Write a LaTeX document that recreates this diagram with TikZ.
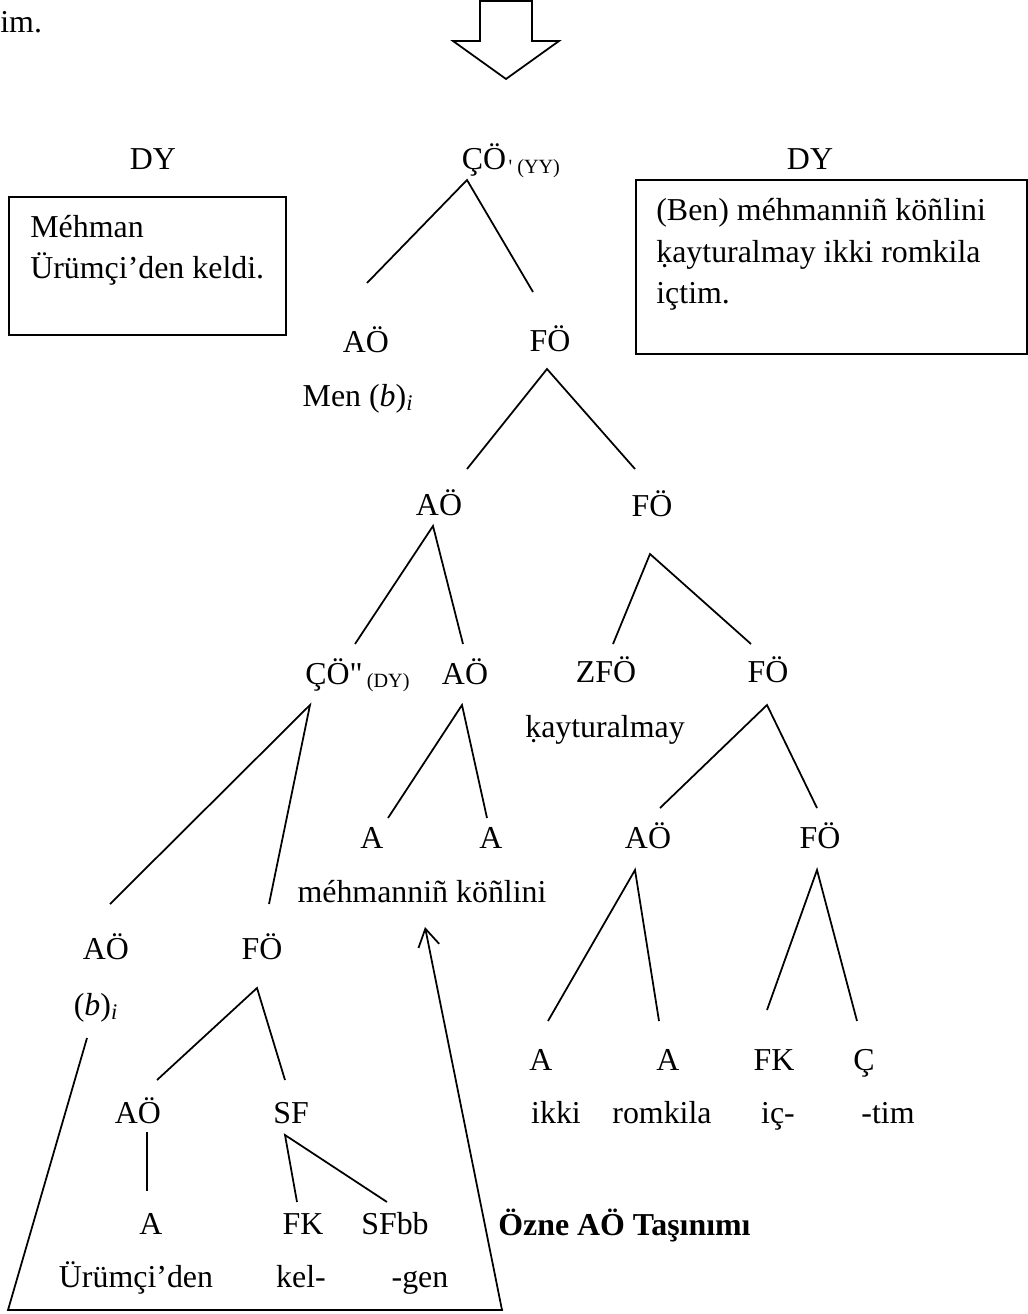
\documentclass[tikz,border=0pt]{standalone}
\usepackage{fontspec}
\setmainfont{Liberation Serif}[Ligatures=TeXOff]
\usetikzlibrary{calc, arrows.meta}

\begin{document}
\begin{tikzpicture}[x=0.02cm, y=-0.02cm,
    font=\fontsize{18.15}{23.8}\selectfont,
    tag/.style={inner sep=0pt, anchor=base},
    sub/.style={inner sep=0pt, anchor=base west, font=\fontsize{11.5}{12}\selectfont},
    branch/.style={line width=1pt},
    dybox/.style={draw, line width=1pt, inner sep=0pt, anchor=north west}]
\useasboundingbox (0,0) rectangle (1027,1314);

% end of the sentence above and the big arrow
\node[tag, anchor=base west] (prev) at (0,33) {im.};
\draw[line width=1pt, fill=white] (480,1) -- (480,41) -- (453,41) -- (506,79)
    -- (559,41) -- (532,41) -- (532,1) -- cycle;

% the two sentences
\node[tag] (dyL) at (153,170) {DY};
\node[dybox, minimum width=5.54cm, minimum height=2.76cm] (boxL) at (8,196) {};
\node[tag, anchor=base west, align=left] (txtL) at (30,279) {Méhman\\Ürümçi’den keldi.};
\node[tag] (dyR) at (810,170) {DY};
\node[dybox, minimum width=7.82cm, minimum height=3.48cm] (boxR) at (635,179) {};
\node[tag, anchor=base west, align=left] (txtR) at (656,304)
    {(Ben) méhmanniñ köñlini\\ḳayturalmay ikki romkila\\içtim.};

% tree labels
\node[tag] (cop) at (484,170) {ÇÖ};
\node[sub] (copsub) at ([xshift=1pt, yshift=-2pt]cop.base east) {' (YY)};
\node[tag] (ao1) at (366,352) {AÖ};
\node[tag] (fo1) at (550,351) {FÖ};
\node[tag] (men) at (358,406) {Men (\textit{b})\textsubscript{\textit{i}}};
\node[tag] (ao2) at (439,515) {AÖ};
\node[tag] (fo2) at (652,516) {FÖ};
\node[tag] (cdp) at (334,684) {ÇÖ"};
\node[sub] (cdpsub) at ([xshift=2pt, yshift=-2pt]cdp.base east) {(DY)};
\node[tag] (ao3) at (465,684) {AÖ};
\node[tag] (zfo) at (606,682) {ZFÖ};
\node[tag] (fo3) at (768,682) {FÖ};
\node[tag] (kay) at (605,737) {ḳayturalmay};
\node[tag] (a1) at (372,848) {A};
\node[tag] (a2) at (491,848) {A};
\node[tag] (ao4) at (648,848) {AÖ};
\node[tag] (fo4) at (820,848) {FÖ};
\node[tag] (mk) at (422,902) {méhmanniñ köñlini};
\node[tag] (ao5) at (106,959) {AÖ};
\node[tag] (fo5) at (262,959) {FÖ};
\node[tag] (bi) at (96,1015) {(\textit{b})\textsubscript{\textit{i}}};
\node[tag] (a3) at (541,1070) {A};
\node[tag] (a4) at (668,1070) {A};
\node[tag] (fk1) at (774,1070) {FK};
\node[tag] (c1) at (864,1070) {Ç};
\node[tag] (w-ikki) at (556,1123) {ikki};
\node[tag] (w-rom) at (662,1123) {romkila};
\node[tag] (w-ic) at (778,1123) {iç-};
\node[tag] (w-tim) at (888,1123) {-tim};
\node[tag] (ao6) at (138,1123) {AÖ};
\node[tag] (sf) at (291,1123) {SF};
\node[tag] (a5) at (151,1234) {A};
\node[tag] (fk2) at (303,1234) {FK};
\node[tag] (sfbb) at (395,1234) {SFbb};
\node[tag] (w-uru) at (136,1287) {Ürümçi’den};
\node[tag] (w-kel) at (301,1287) {kel-};
\node[tag] (w-gen) at (420,1287) {-gen};
\node[tag, anchor=base west] (move) at (498,1235) {\textbf{Özne AÖ Taşınımı}};

% branches
\draw[branch] ($(ao1.base)+(1,-69)$) -- ($(cop.base)+(-17,10)$) -- ($(fo1.base)+(-17,-59)$);
\draw[branch] ($(ao2.base)+(28,-46)$) -- ($(fo1.base)+(-3,18)$) -- ($(fo2.base)+(-17,-47)$);
\draw[branch] ($(cdp.base)+(21,-40)$) -- ($(ao2.base)+(-6,11)$) -- ($(ao3.base)+(-2,-40)$);
\draw[branch] ($(zfo.base)+(7,-38)$) -- ($(fo2.base)+(-2,38)$) -- ($(fo3.base)+(-17,-38)$);
\draw[branch] ($(ao5.base)+(4,-55)$) -- ($(cdp.base)+(-24,21)$) -- ($(fo5.base)+(7,-55)$);
\draw[branch] ($(a1.base)+(16,-30)$) -- ($(ao3.base)+(-3,21)$) -- ($(a2.base)+(-4,-30)$);
\draw[branch] ($(ao4.base)+(12,-40)$) -- ($(fo3.base)+(-1,23)$) -- ($(fo4.base)+(-3,-40)$);
\draw[branch] ($(a3.base)+(7,-49)$) -- ($(ao4.base)+(-13,22)$) -- ($(a4.base)+(-9,-49)$);
\draw[branch] ($(fk1.base)+(-7,-60)$) -- ($(fo4.base)+(-3,22)$) -- ($(c1.base)+(-7,-49)$);
\draw[branch] ($(ao6.base)+(19,-43)$) -- ($(fo5.base)+(-5,29)$) -- ($(sf.base)+(-6,-43)$);
\draw[branch] ($(ao6.base)+(9,9)$) -- ($(a5.base)+(-4,-43)$);
\draw[branch] ($(fk2.base)+(-6,-32)$) -- ($(sf.base)+(-6,12)$) -- ($(sfbb.base)+(-8,-32)$);

% subject moved up
\coordinate (trL) at (8,1310);
\coordinate (trR) at (502,1310);
\draw[branch, -{Straight Barb[length=10pt, width=12pt]}] ($(bi.base)+(-9,23)$)
    -- (trL) -- (trR) -- ($(mk.base)+(3,25)$);
\end{tikzpicture}
\end{document}
